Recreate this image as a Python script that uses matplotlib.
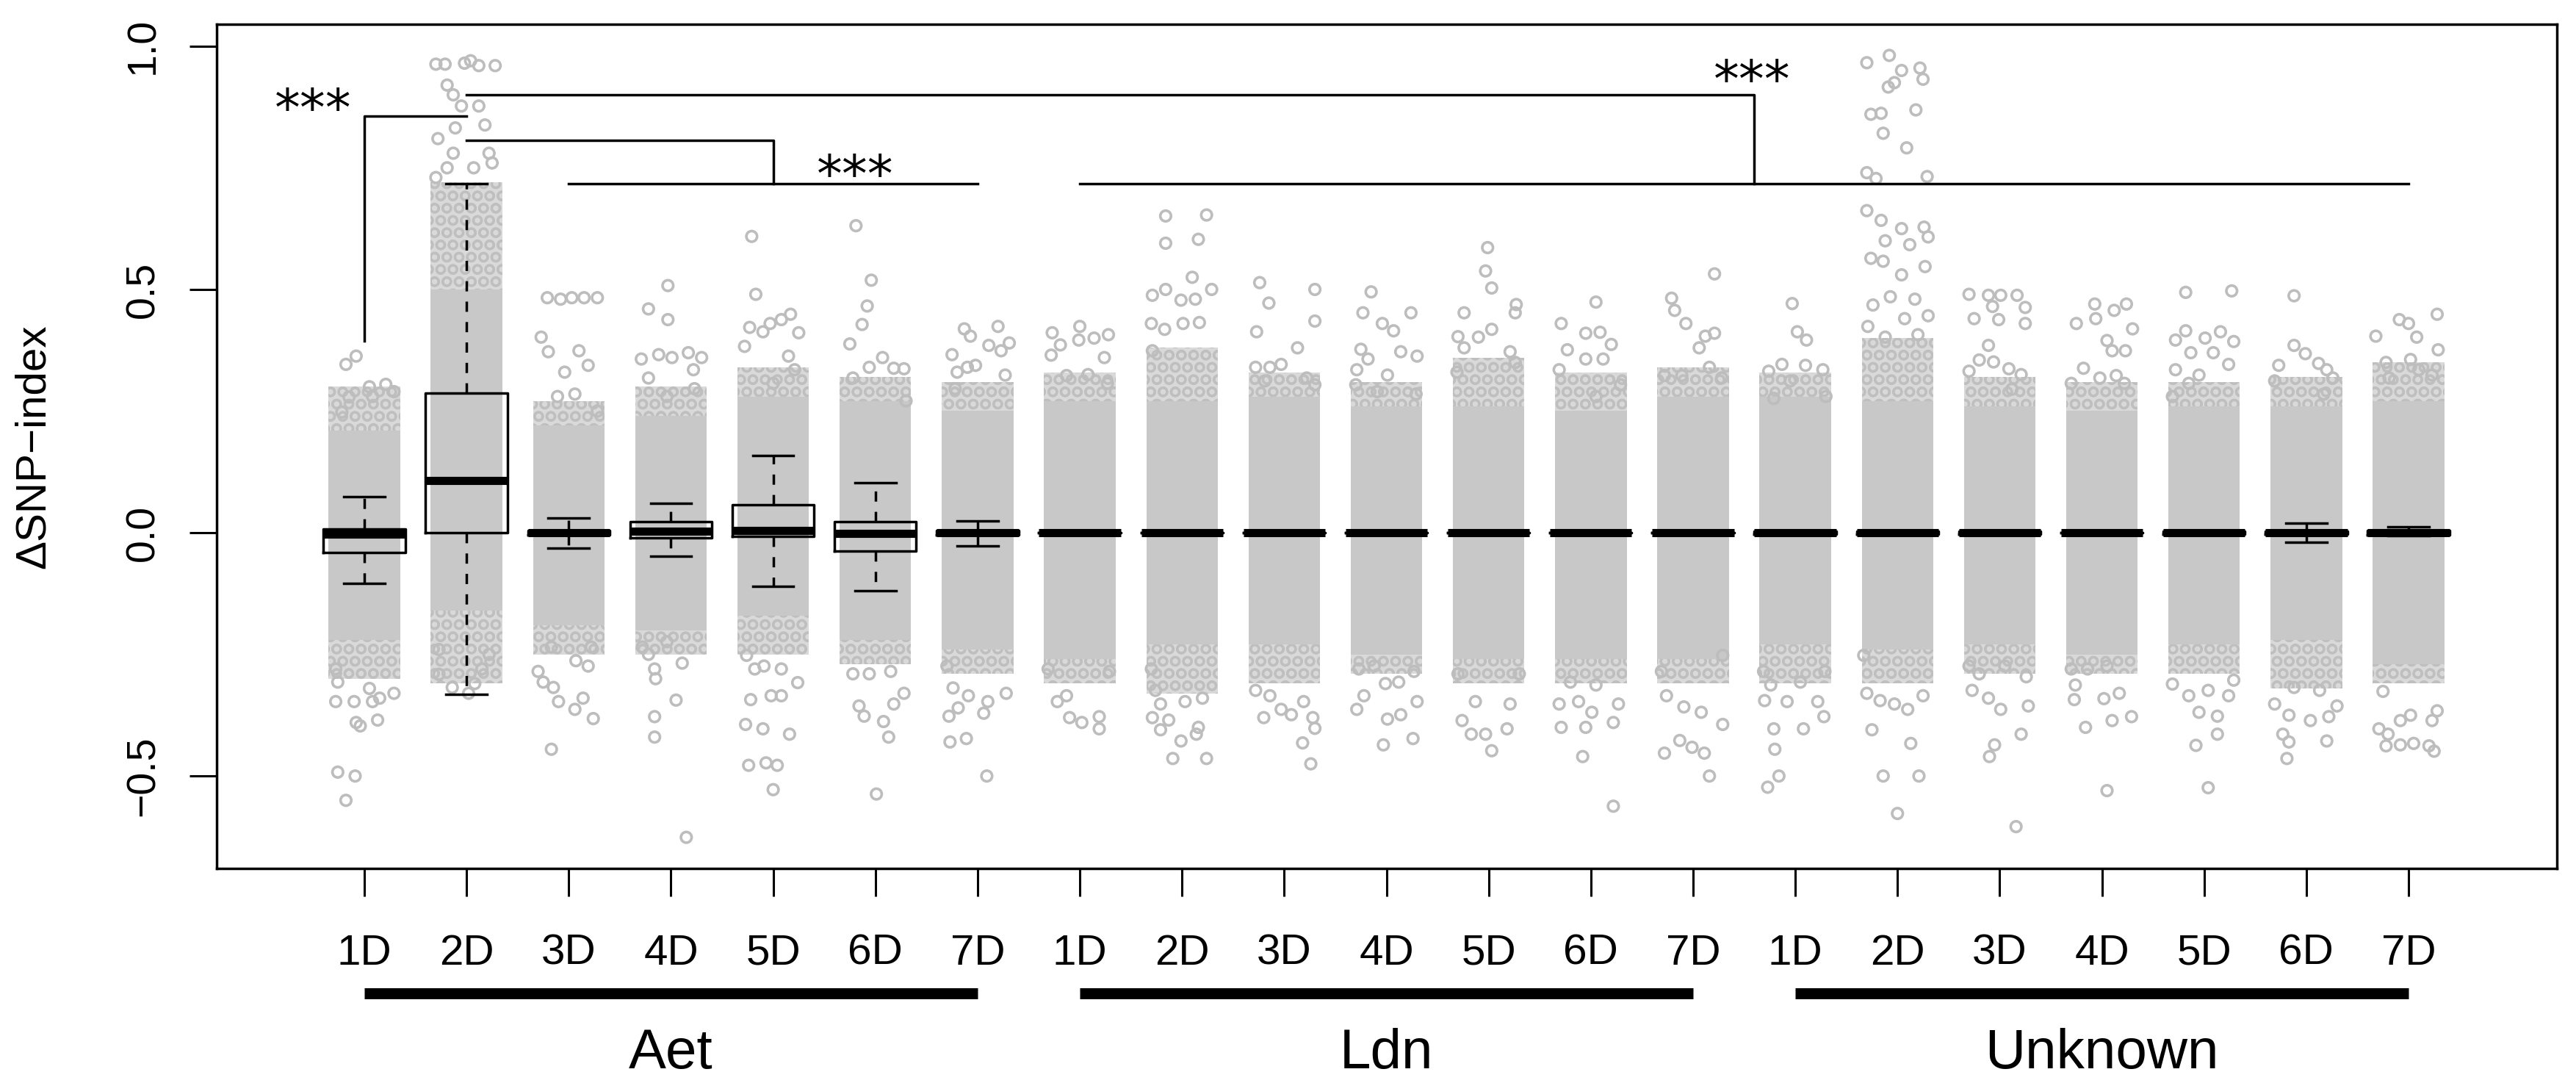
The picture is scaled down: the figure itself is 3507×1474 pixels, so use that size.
import matplotlib.pyplot as plt
from matplotlib.transforms import blended_transform_factory

plt.rcParams['font.family'] = ['Liberation Sans', 'DejaVu Sans']
plt.rcParams['hatch.linewidth'] = 2.2

groups = ['Aet', 'Ldn', 'Unknown']
chroms = ['1D', '2D', '3D', '4D', '5D', '6D', '7D']
ytick_vals = [-0.5, 0.0, 0.5, 1.0]
ytick_labels = ['\u22120.5', '0.0', '0.5', '1.0']

# box statistics per column: Aet 1D..7D, Ldn 1D..7D, Unknown 1D..7D
med = [-0.003, 0.108, 0.0, 0.003, 0.004, -0.002, 0.0,
       0.0, 0.0, 0.0, 0.0, 0.0, 0.0, 0.0,
       0.0, 0.0, 0.0, 0.0, 0.0, 0.0, 0.0]
q1 = [-0.040, 0.0, -0.004, -0.010, -0.008, -0.037, -0.004,
      0.0, 0.0, 0.0, 0.0, 0.0, 0.0, 0.0,
      -0.003, -0.003, -0.003, 0.0, -0.003, -0.003, -0.004]
q3 = [0.008, 0.287, 0.004, 0.022, 0.058, 0.022, 0.004,
      0.0, 0.0, 0.0, 0.0, 0.0, 0.0, 0.0,
      0.003, 0.003, 0.003, 0.0, 0.003, 0.003, 0.004]
w_lo = [-0.104, -0.332, -0.032, -0.048, -0.110, -0.119, -0.027,
        0.0, 0.0, 0.0, 0.0, 0.0, 0.0, 0.0,
        -0.005, -0.005, -0.005, 0.0, -0.005, -0.020, -0.006]
w_hi = [0.074, 0.717, 0.030, 0.060, 0.158, 0.103, 0.024,
        0.0, 0.0, 0.0, 0.0, 0.0, 0.0, 0.0,
        0.005, 0.005, 0.005, 0.0, 0.005, 0.020, 0.012]

# solid part of each jittered cloud, and the looser fringe around it
core_lo = [-0.22, -0.16, -0.19, -0.20, -0.17, -0.22, -0.24,
           -0.26, -0.23, -0.23, -0.25, -0.26, -0.26, -0.26,
           -0.23, -0.24, -0.23, -0.25, -0.23, -0.22, -0.27]
core_hi = [0.21, 0.50, 0.22, 0.24, 0.28, 0.27, 0.25,
           0.27, 0.27, 0.28, 0.26, 0.26, 0.25, 0.28,
           0.28, 0.27, 0.26, 0.25, 0.26, 0.26, 0.27]
fringe_lo = [-0.30, -0.31, -0.25, -0.25, -0.25, -0.27, -0.29,
             -0.31, -0.33, -0.31, -0.29, -0.31, -0.31, -0.31,
             -0.31, -0.31, -0.29, -0.29, -0.29, -0.32, -0.31]
fringe_hi = [0.30, 0.72, 0.27, 0.30, 0.34, 0.32, 0.31,
             0.33, 0.38, 0.33, 0.31, 0.36, 0.33, 0.34,
             0.33, 0.40, 0.32, 0.31, 0.31, 0.32, 0.35]

# scattered points outside the dense cloud: (offset from column centre, value)
sparse = [
    [(-0.18, 0.346), (-0.08, 0.363), (-0.15, 0.279), (0.05, 0.30), (0.21, 0.305), (0.29, 0.29),
     (-0.22, 0.248), (0.08, 0.28), (-0.28, -0.28), (-0.26, -0.307), (-0.28, -0.347), (-0.10, -0.347),
     (0.08, -0.347), (0.15, -0.34), (-0.08, -0.39), (-0.04, -0.397), (0.13, -0.385), (-0.26, -0.492),
     (-0.09, -0.50), (-0.18, -0.55), (0.29, -0.33), (0.05, -0.32)],
    [(-0.30, 0.963), (-0.21, 0.963), (-0.02, 0.965), (0.04, 0.97), (0.12, 0.96), (0.28, 0.96),
     (-0.19, 0.92), (-0.13, 0.90), (-0.05, 0.877), (0.12, 0.877), (0.18, 0.838), (-0.11, 0.832),
     (-0.28, 0.81), (0.22, 0.78), (-0.13, 0.78), (0.07, 0.75), (-0.30, 0.73), (-0.19, 0.75),
     (0.25, 0.76), (-0.27, -0.291), (-0.14, -0.318), (0.08, -0.31), (0.15, -0.28), (-0.27, -0.24),
     (0.22, -0.25), (0.02, -0.33)],
    [(-0.21, 0.483), (-0.08, 0.48), (0.03, 0.483), (0.15, 0.483), (0.28, 0.483), (-0.27, 0.402),
     (-0.20, 0.372), (0.10, 0.374), (0.19, 0.344), (-0.04, 0.33), (-0.11, 0.28), (0.06, 0.285),
     (0.28, 0.25), (-0.17, -0.235), (0.22, -0.235), (0.07, -0.263), (0.19, -0.274), (-0.30, -0.285),
     (-0.25, -0.307), (-0.15, -0.318), (-0.10, -0.347), (0.14, -0.34), (0.06, -0.363), (0.24, -0.382),
     (-0.17, -0.445)],
    [(-0.03, 0.508), (-0.22, 0.46), (-0.03, 0.438), (-0.29, 0.357), (-0.12, 0.366), (0.01, 0.36),
     (0.17, 0.37), (0.30, 0.36), (-0.22, 0.318), (0.22, 0.335), (-0.04, 0.28), (0.23, 0.296),
     (-0.28, -0.235), (-0.04, -0.224), (0.11, -0.268), (-0.22, -0.25), (-0.16, -0.28), (-0.15, -0.30),
     (0.05, -0.344), (-0.16, -0.378), (-0.16, -0.42), (0.15, -0.626)],
    [(-0.21, 0.609), (-0.17, 0.49), (-0.23, 0.422), (-0.03, 0.43), (0.08, 0.438), (0.17, 0.449),
     (0.25, 0.411), (-0.28, 0.383), (-0.10, 0.413), (0.15, 0.363), (0.21, 0.335), (0.0, 0.307),
     (-0.26, -0.252), (-0.18, -0.28), (-0.09, -0.274), (0.08, -0.28), (0.24, -0.308), (-0.22, -0.343),
     (-0.02, -0.335), (0.08, -0.335), (-0.27, -0.394), (-0.10, -0.403), (0.16, -0.414), (-0.24, -0.478),
     (-0.07, -0.473), (0.04, -0.478), (0.0, -0.528)],
    [(-0.19, 0.631), (-0.04, 0.519), (-0.08, 0.466), (-0.13, 0.428), (-0.25, 0.388), (0.07, 0.36),
     (-0.22, 0.318), (-0.06, 0.34), (0.18, 0.338), (0.28, 0.337), (0.30, 0.271), (-0.22, -0.29),
     (-0.06, -0.29), (0.15, -0.285), (0.28, -0.33), (-0.16, -0.356), (0.18, -0.352), (-0.11, -0.377),
     (0.08, -0.388), (0.13, -0.42), (0.01, -0.537)],
    [(-0.13, 0.419), (-0.07, 0.404), (0.20, 0.424), (0.11, 0.385), (0.23, 0.374), (0.31, 0.39),
     (-0.25, 0.366), (-0.10, 0.34), (-0.02, 0.344), (-0.20, 0.33), (0.27, 0.324), (-0.22, 0.296),
     (-0.30, -0.274), (-0.24, -0.319), (-0.09, -0.335), (0.28, -0.33), (0.10, -0.347), (-0.28, -0.377),
     (-0.19, -0.36), (0.06, -0.371), (-0.11, -0.423), (-0.27, -0.43), (0.09, -0.50)],
    [(-0.27, 0.411), (0.0, 0.424), (0.28, 0.407), (-0.19, 0.386), (-0.01, 0.396), (0.24, 0.36),
     (0.14, 0.40), (-0.28, 0.365), (-0.13, 0.323), (0.08, 0.325), (0.27, 0.307), (-0.31, -0.28),
     (-0.22, -0.347), (-0.10, -0.38), (0.02, -0.39), (0.19, -0.378), (0.19, -0.403), (0.29, -0.285),
     (-0.13, -0.335)],
    [(-0.16, 0.651), (0.24, 0.653), (-0.16, 0.595), (0.16, 0.603), (0.10, 0.525), (0.29, 0.50),
     (-0.29, 0.488), (-0.16, 0.50), (-0.01, 0.478), (0.13, 0.48), (-0.30, 0.43), (-0.17, 0.418),
     (0.01, 0.43), (0.17, 0.432), (-0.29, 0.374), (-0.30, -0.28), (-0.26, -0.324), (-0.21, -0.352),
     (0.03, -0.347), (0.20, -0.34), (-0.29, -0.38), (-0.13, -0.385), (0.16, -0.40), (-0.21, -0.405),
     (-0.01, -0.428), (0.14, -0.414), (-0.09, -0.464), (0.24, -0.464)],
    [(-0.24, 0.514), (-0.15, 0.472), (0.30, 0.50), (-0.27, 0.413), (0.30, 0.435), (0.13, 0.38),
     (-0.28, 0.34), (-0.14, 0.34), (-0.03, 0.346), (0.22, 0.318), (-0.19, 0.312), (0.30, 0.304),
     (-0.28, -0.324), (-0.14, -0.335), (-0.20, -0.38), (-0.03, -0.363), (0.07, -0.374), (0.19, -0.347),
     (0.28, -0.38), (0.18, -0.432), (0.26, -0.475), (0.30, -0.402)],
    [(-0.15, 0.495), (-0.23, 0.452), (0.24, 0.452), (-0.04, 0.43), (0.07, 0.415), (-0.25, 0.377),
     (-0.18, 0.357), (0.14, 0.372), (0.30, 0.363), (-0.29, 0.335), (0.01, 0.324), (-0.30, 0.304),
     (0.29, 0.285), (-0.09, 0.29), (-0.27, -0.28), (-0.12, -0.274), (0.27, -0.285), (0.12, -0.307),
     (-0.22, -0.335), (-0.01, -0.31), (0.30, -0.347), (-0.29, -0.363), (0.01, -0.383), (0.14, -0.374),
     (-0.03, -0.436), (0.26, -0.423)],
    [(-0.01, 0.586), (-0.03, 0.538), (0.03, 0.503), (-0.24, 0.452), (0.27, 0.469), (0.26, 0.452),
     (-0.30, 0.403), (-0.10, 0.402), (0.03, 0.418), (-0.24, 0.38), (0.21, 0.372), (0.26, 0.35),
     (-0.31, 0.33), (-0.30, -0.29), (0.30, -0.29), (-0.13, -0.347), (0.21, -0.352), (-0.26, -0.386),
     (-0.03, -0.414), (0.18, -0.403), (0.03, -0.448), (-0.17, -0.414)],
    [(0.05, 0.474), (-0.29, 0.43), (-0.05, 0.41), (0.09, 0.412), (0.20, 0.387), (-0.23, 0.376),
     (-0.05, 0.357), (0.12, 0.357), (-0.31, 0.335), (0.29, 0.304), (0.05, 0.28), (-0.20, -0.307),
     (0.05, -0.313), (-0.31, -0.352), (-0.12, -0.347), (0.27, -0.352), (0.01, -0.369), (-0.29, -0.40),
     (-0.05, -0.40), (0.22, -0.39), (-0.08, -0.46), (0.22, -0.562)],
    [(0.21, 0.532), (-0.21, 0.482), (-0.18, 0.457), (-0.07, 0.43), (0.21, 0.41), (0.12, 0.404),
     (0.06, 0.38), (-0.28, 0.323), (0.28, 0.318), (-0.11, 0.323), (0.16, 0.34), (-0.31, -0.285),
     (0.29, -0.252), (-0.26, -0.335), (-0.09, -0.358), (0.08, -0.369), (0.29, -0.394), (-0.28, -0.453),
     (-0.13, -0.427), (-0.01, -0.441), (0.11, -0.453), (0.16, -0.50)],
    [(-0.03, 0.471), (0.02, 0.413), (0.11, 0.396), (-0.26, 0.332), (-0.13, 0.346), (0.10, 0.344),
     (0.27, 0.335), (-0.05, 0.312), (0.30, 0.28), (-0.21, 0.276), (-0.31, -0.285), (-0.24, -0.313),
     (-0.08, -0.347), (0.05, -0.307), (0.29, -0.285), (0.22, -0.347), (-0.30, -0.345), (-0.21, -0.403),
     (0.08, -0.403), (0.28, -0.378), (-0.20, -0.445), (-0.16, -0.50), (-0.27, -0.523)],
    [(-0.08, 0.981), (-0.30, 0.966), (0.04, 0.95), (0.22, 0.955), (0.25, 0.932), (-0.09, 0.916),
     (-0.03, 0.925), (0.18, 0.869), (-0.26, 0.86), (-0.16, 0.862), (-0.14, 0.821), (0.09, 0.791),
     (-0.30, 0.74), (-0.21, 0.728), (0.29, 0.732), (-0.30, 0.662), (-0.16, 0.642), (0.04, 0.625),
     (0.26, 0.628), (-0.12, 0.60), (0.12, 0.592), (0.30, 0.608), (-0.26, 0.564), (-0.14, 0.558),
     (0.04, 0.53), (0.27, 0.547), (-0.24, 0.468), (-0.07, 0.485), (0.17, 0.48), (0.07, 0.44),
     (0.30, 0.446), (-0.29, 0.424), (-0.12, 0.402), (0.20, 0.407), (-0.33, -0.252), (-0.30, -0.33),
     (-0.17, -0.345), (-0.03, -0.352), (0.10, -0.363), (0.25, -0.335), (-0.25, -0.405), (0.13, -0.433),
     (-0.14, -0.50), (0.21, -0.50), (0.0, -0.577)],
    [(-0.30, 0.49), (-0.11, 0.488), (0.01, 0.488), (0.17, 0.488), (0.25, 0.463), (-0.07, 0.465),
     (-0.25, 0.44), (-0.01, 0.438), (0.25, 0.43), (-0.11, 0.385), (-0.20, 0.355), (-0.06, 0.351),
     (-0.30, 0.332), (0.09, 0.337), (0.21, 0.325), (0.12, 0.295), (-0.30, -0.274), (-0.20, -0.29),
     (0.05, -0.274), (0.26, -0.296), (-0.27, -0.324), (-0.11, -0.34), (0.01, -0.363), (0.28, -0.356),
     (0.21, -0.414), (-0.05, -0.436), (-0.10, -0.46), (0.16, -0.604)],
    [(-0.07, 0.47), (0.12, 0.457), (0.24, 0.47), (-0.25, 0.43), (-0.06, 0.44), (0.30, 0.419),
     (0.05, 0.395), (0.23, 0.374), (0.10, 0.374), (-0.18, 0.338), (-0.30, 0.307), (-0.02, 0.318),
     (0.22, 0.307), (0.14, 0.323), (-0.30, -0.28), (-0.14, -0.28), (0.05, -0.274), (-0.26, -0.313),
     (-0.27, -0.343), (0.02, -0.341), (0.17, -0.33), (0.29, -0.378), (0.10, -0.386), (-0.16, -0.40),
     (0.05, -0.53)],
    [(-0.18, 0.494), (0.27, 0.497), (-0.18, 0.415), (0.01, 0.40), (0.16, 0.413), (0.29, 0.393),
     (-0.28, 0.396), (-0.13, 0.37), (0.09, 0.37), (-0.28, 0.335), (-0.05, 0.324), (0.24, 0.346),
     (-0.15, 0.307), (-0.31, 0.28), (-0.31, -0.311), (-0.15, -0.335), (0.04, -0.324), (0.24, -0.335),
     (-0.05, -0.369), (0.13, -0.377), (0.13, -0.414), (-0.08, -0.437), (0.29, -0.303), (0.04, -0.524)],
    [(-0.12, 0.487), (-0.12, 0.385), (-0.01, 0.368), (-0.27, 0.344), (0.12, 0.348), (0.20, 0.335),
     (0.26, 0.318), (-0.31, 0.312), (0.17, 0.285), (-0.31, -0.352), (-0.12, -0.318), (0.13, -0.324),
     (0.30, -0.356), (-0.17, -0.375), (0.04, -0.386), (0.22, -0.378), (-0.23, -0.414), (0.20, -0.428),
     (-0.17, -0.43), (-0.19, -0.464)],
    [(0.28, 0.449), (-0.32, 0.404), (-0.09, 0.438), (0.0, 0.43), (0.08, 0.402), (0.29, 0.376),
     (-0.22, 0.35), (0.02, 0.356), (0.23, 0.324), (-0.19, 0.318), (0.10, 0.335), (-0.25, -0.326),
     (0.02, -0.375), (-0.08, -0.386), (0.28, -0.366), (-0.29, -0.403), (-0.20, -0.414), (-0.22, -0.438),
     (-0.08, -0.436), (0.05, -0.433), (0.20, -0.438), (0.25, -0.449), (0.23, -0.386)],
]

# significance brackets and their stars
bracket_x = [[1, 1, 2], [2, 14.6, 14.6], [8, 21], [2, 5, 5], [3, 7]]
bracket_y = [[0.394, 0.856, 0.856], [0.90, 0.90, 0.717], [0.717, 0.717],
             [0.806, 0.806, 0.717], [0.717, 0.717]]
star_x = [0.5, 14.58, 5.8]
star_y = [0.893, 0.952, 0.757]

GRAY = '#c8c8c8'

fig = plt.figure(figsize=(35.07, 14.74), dpi=100)
ax = fig.add_axes([0.0841, 0.1981, 0.9085, 0.7795])

n = len(groups) * len(chroms)
pos = list(range(1, n + 1))

# point clouds
ax.bar(pos, [hi - lo for lo, hi in zip(fringe_lo, fringe_hi)], bottom=fringe_lo, width=0.7,
       color='#d9d9d9', edgecolor='#bfbfbf', hatch='O', linewidth=0, zorder=1)
ax.bar(pos, [hi - lo for lo, hi in zip(core_lo, core_hi)], bottom=core_lo, width=0.7,
       color=GRAY, linewidth=0, zorder=1.5)
for i, pts in enumerate(sparse):
    ax.scatter([pos[i] + dx for dx, _ in pts], [y for _, y in pts], s=110,
               facecolors='none', edgecolors='#bdbdbd', linewidths=2.6, zorder=2)

# boxplots on top
stats = [dict(med=med[i], q1=q1[i], q3=q3[i], whislo=w_lo[i], whishi=w_hi[i], fliers=[])
         for i in range(n)]
ax.bxp(stats, positions=pos, widths=0.8, showfliers=False, manage_ticks=False, zorder=3,
       boxprops=dict(color='black', linewidth=2.5),
       medianprops=dict(color='black', linewidth=8, solid_capstyle='butt'),
       whiskerprops=dict(color='black', linewidth=2.5, linestyle=(0, (4, 4))),
       capprops=dict(color='black', linewidth=2.5))

for bx, by in zip(bracket_x, bracket_y):
    ax.plot(bx, by, color='black', linewidth=2.5, zorder=4)
for sx, sy in zip(star_x, star_y):
    ax.annotate('***', (sx, sy), xytext=(0, -27), textcoords='offset points',
                ha='center', va='baseline', fontsize=50, family='DejaVu Sans', zorder=5)

ax.set_xlim(-0.445, 22.452)
ax.set_ylim(-0.690, 1.045)

ax.set_xticks(pos)
ax.set_xticklabels(chroms * len(groups), fontsize=42)
ax.set_yticks(ytick_vals)
ax.set_yticklabels(ytick_labels, fontsize=40, rotation=90, va='center')
ax.tick_params(axis='both', direction='out', length=27, width=2.2)
ax.tick_params(axis='x', pad=37)
ax.tick_params(axis='y', pad=26)
for sp in ax.spines.values():
    sp.set_linewidth(2.5)

ax.text(-0.0782, 0.5, '\u0394SNP\u2212index', transform=ax.transAxes, rotation=90,
        ha='center', va='center', fontsize=42)

# group bars under the tick labels
trans = blended_transform_factory(ax.transData, ax.transAxes)
for g, name in enumerate(groups):
    first, last = pos[g * len(chroms)], pos[(g + 1) * len(chroms) - 1]
    ax.plot([first, last], [-0.148, -0.148], transform=trans, color='black',
            linewidth=10.8, solid_capstyle='butt', clip_on=False)
    ax.text((first + last) / 2, -0.220, name, transform=trans, ha='center', va='center',
            fontsize=55)

fig.savefig('out.png', dpi=100)
